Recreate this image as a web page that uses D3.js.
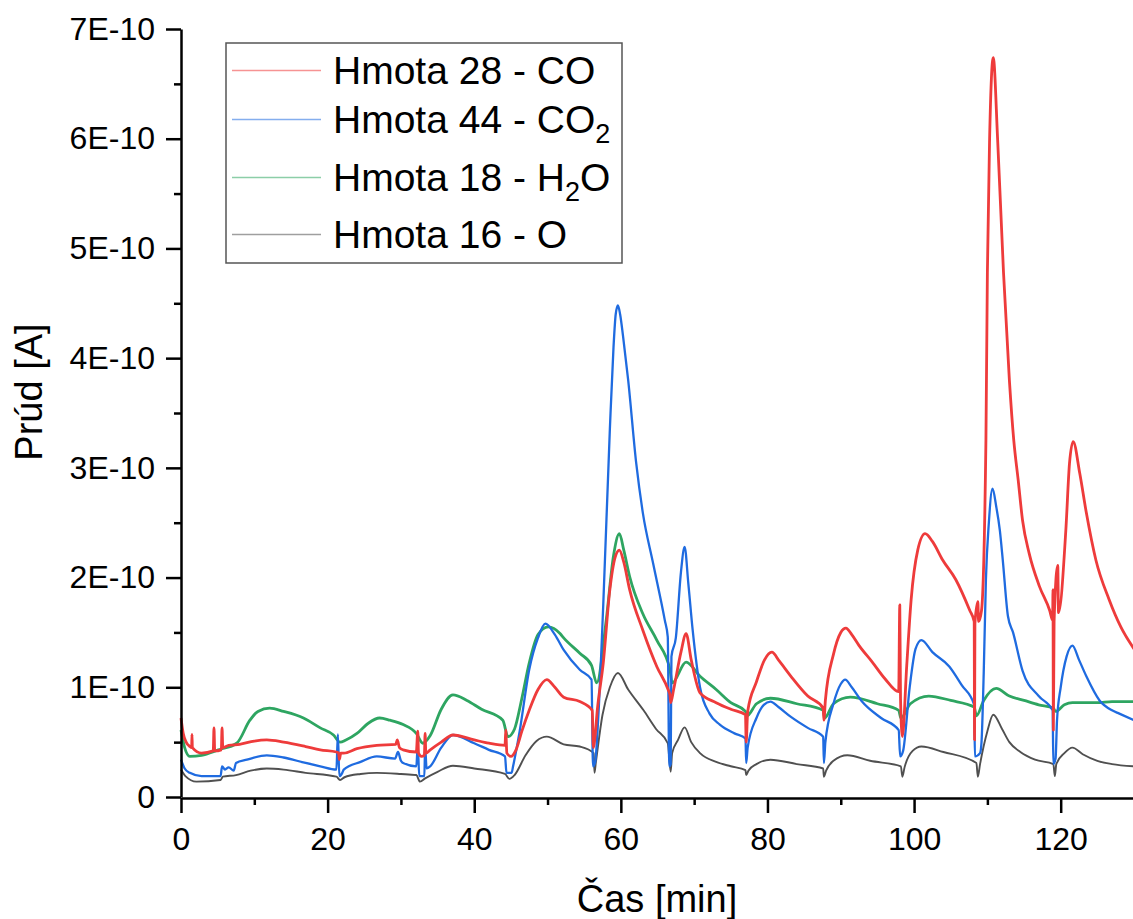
<!DOCTYPE html>
<html>
<head>
<meta charset="utf-8">
<script src="https://cdn.jsdelivr.net/npm/d3@7"></script>
<style>
  html, body { margin: 0; padding: 0; background: #fff; }
  svg { display: block; }
  text { font-family: "Liberation Sans", Arial, sans-serif; fill: #000; }
</style>
</head>
<body>
<svg id="chart" width="1133" height="919"></svg>
<script>
// Ion current per mass channel, [time in min, current in units of 1E-10 A]
const mass28CO = [
  [0,0.72],[0.3,0.58],[0.7,0.50],[1.2,0.46],[1.45,0.45],[1.5,0.57],[1.55,0.45],[2.8,0.40],
  [4.4,0.42],[4.5,0.63],[4.6,0.42],[5.5,0.43],[5.6,0.63],[5.7,0.45],[6.5,0.47],[8,0.48],
  [10,0.51],[11.7,0.52],[14,0.50],[17,0.46],[19,0.43],[21.2,0.41],[21.5,0.40],[21.6,0.34],
  [21.8,0.40],[22.2,0.40],[24,0.44],[26.7,0.47],[29.3,0.48],[29.5,0.52],[29.8,0.45],[30.3,0.43],
  [32.1,0.41],[32.3,0.60],[32.4,0.40],[32.8,0.37],[33.2,0.38],[33.3,0.58],[33.4,0.40],[34,0.43],
  [35.5,0.50],[37.1,0.565],[40,0.52],[42,0.49],[44.2,0.47],[44.3,0.61],[44.45,0.40],[45.0,0.37],
  [45.7,0.43],[46.5,0.60],[47.5,0.79],[48.7,0.98],[49.9,1.07],[51,1.00],[52.2,0.91],[54.4,0.87],
  [56.1,0.79],[56.25,0.45],[56.4,0.50],[56.8,0.80],[57.6,1.22],[58.5,1.89],[59.2,2.18],[59.8,2.25],
  [60.4,2.14],[61.2,1.89],[63.0,1.52],[64.9,1.19],[66.5,0.97],[66.7,0.93],[66.8,0.86],[67.2,0.98],
  [68.2,1.32],[68.9,1.49],[69.6,1.25],[70.8,0.95],[73.0,0.86],[75,0.80],[77.0,0.75],[77.1,0.50],
  [77.3,0.78],[78.5,1.05],[79.6,1.25],[80.6,1.32],[81.6,1.24],[83.2,1.10],[85.5,0.92],[87.6,0.81],
  [87.7,0.70],[87.9,0.88],[89,1.30],[90.0,1.50],[90.7,1.54],[91.5,1.48],[92.5,1.38],[94.3,1.23],
  [96,1.08],[97.9,0.96],[98.05,1.75],[98.15,0.90],[98.4,0.55],[99,1.20],[99.6,1.80],[100.5,2.25],
  [101.5,2.40],[102.5,2.33],[103.9,2.16],[105.7,1.98],[107.6,1.70],[108.2,1.60],[108.25,0.52],
  [108.3,1.58],[108.7,1.78],[108.8,1.60],[109.2,1.70],[109.8,3.25],[110.0,4.78],[110.3,5.99],
  [110.8,6.74],[111.4,5.99],[112.2,4.78],[113.0,3.80],[113.6,3.25],[114.2,2.89],[114.8,2.52],
  [115.7,2.22],[117.1,1.92],[118.5,1.70],[118.9,1.61],[118.95,1.89],[119.0,0.61],[119.1,1.60],
  [119.6,2.11],[119.7,1.68],[120.7,2.43],[121.2,3.04],[121.7,3.24],[122.6,2.95],[123.5,2.59],
  [124.8,2.16],[126.6,1.80],[128.2,1.55],[130,1.35]
];

const mass44CO2 = [
  [0,0.34],[0.5,0.26],[1.2,0.22],[2.8,0.19],[5.4,0.19],[5.6,0.28],[6.0,0.25],[6.5,0.27],
  [7.2,0.24],[7.5,0.31],[9,0.34],[11.7,0.38],[14,0.36],[17,0.31],[19,0.28],[21.2,0.25],
  [21.4,0.57],[21.6,0.19],[22.0,0.22],[22.2,0.25],[24.5,0.32],[26.7,0.37],[29.2,0.35],[29.6,0.41],
  [30.0,0.33],[30.3,0.31],[32.1,0.28],[32.3,0.47],[32.5,0.19],[33.2,0.19],[33.3,0.47],[33.5,0.26],
  [34,0.28],[35.5,0.45],[37.1,0.565],[40,0.49],[42,0.43],[44.2,0.37],[44.4,0.22],[45.1,0.22],
  [45.3,0.28],[46.2,0.60],[47.5,1.16],[48.7,1.45],[49.7,1.58],[51,1.48],[52.2,1.34],[54.4,1.16],
  [56.0,1.07],[56.2,0.28],[56.5,0.32],[56.9,0.70],[57.6,1.75],[58.5,3.35],[59.0,4.10],[59.3,4.40],
  [59.6,4.48],[59.9,4.40],[60.3,4.20],[61.0,3.80],[62.1,3.04],[63.0,2.59],[64.4,2.13],[66.0,1.61],
  [66.4,1.46],[66.6,0.28],[66.8,0.30],[66.9,1.28],[67.5,1.45],[68.2,2.05],[68.7,2.28],[69.2,1.95],
  [69.8,1.52],[70.8,1.00],[72.1,0.76],[73.5,0.66],[75.5,0.58],[77.0,0.535],[77.1,0.31],[77.3,0.45],
  [78.5,0.72],[79.5,0.84],[80.4,0.87],[81.5,0.82],[83.2,0.73],[85.5,0.63],[87.6,0.55],[87.7,0.31],
  [87.9,0.50],[89,0.85],[90.0,1.03],[90.6,1.07],[91.5,1.00],[92.9,0.87],[95.5,0.72],[97.9,0.61],
  [98.1,0.37],[98.5,0.42],[99.4,1.00],[100.2,1.35],[101.0,1.43],[102.5,1.32],[104.8,1.19],
  [106.5,1.02],[108.2,0.84],[108.3,0.37],[109.0,0.40],[109.2,0.50],[109.5,1.13],[109.8,1.98],
  [110.2,2.50],[110.7,2.81],[111.2,2.65],[111.7,2.43],[112.1,2.16],[112.8,1.65],[113.5,1.50],
  [114.8,1.15],[117,0.92],[118.9,0.79],[119.0,0.30],[119.3,0.35],[119.5,0.70],[120.0,1.00],
  [120.8,1.28],[121.6,1.38],[122.5,1.25],[123.5,1.10],[125.3,0.88],[127,0.79],[128,0.76],[130,0.70]
];

const mass18H2O = [
  [0,0.61],[0.5,0.45],[1.2,0.37],[2.8,0.38],[5.1,0.43],[7.6,0.49],[9.4,0.70],[10.5,0.78],
  [12.1,0.81],[14,0.78],[16.7,0.72],[19,0.63],[20.8,0.565],[21.7,0.50],[22.5,0.52],[24,0.58],
  [25.5,0.67],[27.1,0.72],[28.5,0.70],[30.3,0.66],[32.1,0.58],[33.0,0.49],[34.0,0.56],[35.5,0.80],
  [37.1,0.93],[39,0.88],[41,0.80],[43.9,0.70],[44.6,0.55],[45.5,0.62],[46.5,0.90],[47.5,1.22],
  [48.7,1.48],[50.1,1.55],[51.7,1.49],[52.2,1.45],[54.4,1.31],[56.0,1.20],[56.7,1.04],[58.0,1.61],
  [59.0,2.20],[59.8,2.40],[60.4,2.25],[61.2,2.01],[63.0,1.67],[64.9,1.43],[66.7,1.16],[67.0,1.04],
  [68.9,1.23],[70.8,1.10],[73.0,0.98],[75,0.86],[77.0,0.78],[77.2,0.74],[78.5,0.85],[80.4,0.90],
  [84,0.85],[87.6,0.79],[87.8,0.72],[89,0.85],[91.3,0.91],[95,0.85],[97.9,0.79],[98.2,0.72],
  [99.5,0.85],[102,0.92],[105,0.88],[108.2,0.82],[108.5,0.74],[109.5,0.88],[111.2,0.99],[113,0.92],
  [115,0.88],[117,0.84],[119,0.81],[119.3,0.78],[120.5,0.84],[121.6,0.86],[125,0.86],[127,0.87],
  [130,0.87]
];

const mass16O = [
  [0,0.25],[0.6,0.19],[2.1,0.14],[5.4,0.155],[5.7,0.185],[7.5,0.20],[9.5,0.24],[11.7,0.26],
  [14,0.25],[17,0.22],[21.2,0.185],[21.7,0.155],[22.3,0.18],[24.5,0.21],[26.7,0.22],[30,0.21],
  [32.1,0.20],[32.6,0.14],[33.3,0.17],[35,0.23],[37.1,0.285],[40,0.26],[44.2,0.21],[44.8,0.165],
  [45.5,0.20],[47,0.38],[48.5,0.51],[49.9,0.55],[52.2,0.48],[54.4,0.46],[56.3,0.40],[56.4,0.22],
  [56.6,0.32],[57.5,0.75],[58.5,1.00],[59.6,1.13],[61,0.98],[63.1,0.79],[64.8,0.62],[66.4,0.49],
  [66.8,0.23],[67.0,0.40],[67.8,0.52],[68.7,0.635],[69.6,0.50],[70.8,0.40],[73,0.32],[75,0.28],
  [77.0,0.245],[77.1,0.20],[77.4,0.24],[78.5,0.30],[80.4,0.34],[84,0.30],[87.6,0.26],[87.7,0.185],
  [88,0.24],[89,0.33],[90.9,0.38],[94,0.33],[98.2,0.28],[98.4,0.185],[98.7,0.27],[99.8,0.42],
  [101,0.46],[104,0.41],[108.5,0.31],[108.7,0.185],[109,0.30],[110,0.60],[110.8,0.75],[112,0.62],
  [113,0.50],[114.5,0.41],[116.5,0.34],[119.0,0.30],[119.2,0.19],[119.4,0.30],[120.5,0.40],
  [121.6,0.45],[123,0.39],[125,0.33],[127,0.30],[130,0.28]
];

const UNIT = 1e-10;
const xMajorTicks = [0, 20, 40, 60, 80, 100, 120];
const xMinorTicks = [10, 30, 50, 70, 90, 110, 130];
const yMajorTicks = [0, 1, 2, 3, 4, 5, 6, 7];
const yMinorTicks = [0.5, 1.5, 2.5, 3.5, 4.5, 5.5, 6.5];

const series = [
  { data: mass28CO,  color: "#EE3B3B", width: 2.8, label: ["Hmota 28 - CO", null, ""] },
  { data: mass44CO2, color: "#1F6BE0", width: 2.3, label: ["Hmota 44 - CO", "2", ""] },
  { data: mass18H2O, color: "#2EA561", width: 2.8, label: ["Hmota 18 - H", "2", "O"] },
  { data: mass16O,   color: "#505050", width: 1.9, label: ["Hmota 16 - O", null, ""] }
];

const svg = d3.select("#chart");
const plotLeft = 181, plotRight = 1134, plotTop = 29, plotBottom = 797;

const x = d3.scaleLinear().domain([0, 130]).range([plotLeft, plotRight]);
const y = d3.scaleLinear().domain([0, 7 * UNIT]).range([plotBottom, plotTop]);

// Curves, drawn back to front
const line = d3.line()
  .x(d => x(d[0]))
  .y(d => y(d[1] * UNIT))
  .curve(d3.curveMonotoneX);
const drawOrder = [3, 2, 1, 0];
drawOrder.forEach(i => {
  const s = series[i];
  svg.append("path")
    .datum(s.data)
    .attr("fill", "none")
    .attr("stroke", s.color)
    .attr("stroke-width", s.width)
    .attr("stroke-linejoin", "round")
    .attr("d", line);
});

// Axes
const fmtY = d => d === 0 ? "0" : `${Math.round(d / UNIT)}E-10`;

svg.append("g").attr("transform", `translate(0,${plotBottom + 1})`)
  .call(d3.axisBottom(x).tickValues(xMajorTicks).tickSize(15).tickPadding(14).tickSizeOuter(0));
svg.append("g").attr("transform", `translate(0,${plotBottom + 1})`)
  .call(d3.axisBottom(x).tickValues(xMinorTicks).tickSize(7).tickFormat("").tickSizeOuter(0))
  .select(".domain").remove();

svg.append("g").attr("transform", `translate(${plotLeft},0)`)
  .call(d3.axisLeft(y).tickValues(yMajorTicks.map(v => v * UNIT)).tickFormat(fmtY)
    .tickSize(15).tickPadding(11).tickSizeOuter(0));
svg.append("g").attr("transform", `translate(${plotLeft},0)`)
  .call(d3.axisLeft(y).tickValues(yMinorTicks.map(v => v * UNIT)).tickSize(7).tickFormat("").tickSizeOuter(0))
  .select(".domain").remove();

svg.selectAll(".domain").attr("stroke", "#000").attr("stroke-width", 2.5);
svg.selectAll(".tick line").attr("stroke", "#000").attr("stroke-width", 2.5);
svg.selectAll(".tick text")
  .attr("font-family", "'Liberation Sans', Arial, sans-serif")
  .attr("font-size", 32).attr("fill", "#000");

// Axis titles
svg.append("text")
  .attr("x", (plotLeft + 1133) / 2).attr("y", 912)
  .attr("text-anchor", "middle").attr("font-size", 38)
  .text("Čas [min]");
svg.append("text")
  .attr("transform", "translate(42,392) rotate(-90)")
  .attr("text-anchor", "middle").attr("font-size", 38)
  .text("Prúd [A]");

// Legend
const legend = svg.append("g");
legend.append("rect")
  .attr("x", 226).attr("y", 43).attr("width", 396).attr("height", 220)
  .attr("fill", "#fff").attr("stroke", "#555").attr("stroke-width", 1.5);

const rowBase = [84, 133, 191, 248];
series.forEach((s, i) => {
  legend.append("line")
    .attr("x1", 232).attr("x2", 321)
    .attr("y1", rowBase[i] - 13.5).attr("y2", rowBase[i] - 13.5)
    .attr("stroke", s.color).attr("stroke-width", 1.5).attr("stroke-opacity", 0.55);
  const t = legend.append("text")
    .attr("x", 333).attr("y", rowBase[i]).attr("font-size", 39);
  t.append("tspan").text(s.label[0]);
  if (s.label[1]) {
    t.append("tspan").attr("font-size", 27).attr("dy", 10).text(s.label[1]);
    if (s.label[2]) t.append("tspan").attr("dy", -10).text(s.label[2]);
  }
});
</script>
</body>
</html>
